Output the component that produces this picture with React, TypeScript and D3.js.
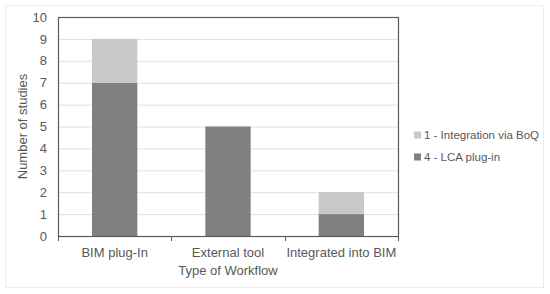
import React, { useEffect, useRef } from 'react';
import * as d3 from 'd3';

const categories = ['BIM plug-In', 'External tool', 'Integrated into BIM'];
const lcaPlugin = [7, 5, 1];
const boqIntegration = [2, 0, 1];
const seriesNames = ['1 - Integration via BoQ', '4 - LCA plug-in'];
const yTicks = [0, 1, 2, 3, 4, 5, 6, 7, 8, 9, 10];

const App = () => {
    const svgRef = useRef<SVGSVGElement | null>(null);

    useEffect(() => {
        const svg = d3.select(svgRef.current);
        svg.selectAll('*').remove();
        const left = 58, right = 398, top = 17, bottom = 236;
        const font = 'Liberation Sans, Arial, sans-serif';
        const textColor = '#595959';

        svg.append('rect')
            .attr('x', 5.5).attr('y', 5.5)
            .attr('width', 538).attr('height', 282)
            .attr('fill', 'white')
            .attr('stroke', '#ececec');

        const x = d3.scaleBand().domain(categories).range([left, right]).paddingInner(0.6).paddingOuter(0.3);
        const y = d3.scaleLinear().domain([0, 10]).range([bottom, top]);

        // gridlines
        svg.append('g').selectAll('line').data(yTicks.slice(1, -1)).enter().append('line')
            .attr('x1', left).attr('x2', right)
            .attr('y1', (d) => y(d) + 0.5).attr('y2', (d) => y(d) + 0.5)
            .attr('stroke', '#e0e0e0');

        const stack = categories.map((c, i) => ({ cat: c, lca: lcaPlugin[i], boq: boqIntegration[i] }));

        const bars = svg.append('g');
        bars.selectAll('.lca').data(stack).enter().append('rect')
            .attr('x', (d) => x(d.cat))
            .attr('width', x.bandwidth())
            .attr('y', (d) => y(d.lca))
            .attr('height', (d) => y(0) - y(d.lca))
            .attr('fill', '#808080');
        bars.selectAll('.boq').data(stack.filter((d) => d.boq > 0)).enter().append('rect')
            .attr('x', (d) => x(d.cat))
            .attr('width', x.bandwidth())
            .attr('y', (d) => y(d.lca + d.boq))
            .attr('height', (d) => y(d.lca) - y(d.lca + d.boq))
            .attr('fill', '#c8c8c8');

        // frame
        svg.append('rect')
            .attr('x', left + 0.5).attr('y', top + 0.5)
            .attr('width', right - left).attr('height', bottom - top)
            .attr('fill', 'none')
            .attr('stroke', '#595959')
            .attr('stroke-width', 1.2);

        // x ticks at band boundaries
        const step = (right - left) / categories.length;
        const xTickPos = d3.range(categories.length + 1).map((i) => left + i * step);
        svg.append('g').selectAll('line').data(xTickPos).enter().append('line')
            .attr('x1', (d) => Math.round(d) + 0.5).attr('x2', (d) => Math.round(d) + 0.5)
            .attr('y1', bottom).attr('y2', bottom + 5)
            .attr('stroke', '#595959');

        // y tick labels
        svg.append('g').selectAll('text').data(yTicks).enter().append('text')
            .attr('x', 47)
            .attr('y', (d) => y(d))
            .attr('dy', '0.36em')
            .attr('text-anchor', 'end')
            .attr('font-family', font)
            .attr('font-size', 13)
            .attr('fill', textColor)
            .text((d) => d);

        // x labels
        svg.append('g').selectAll('text').data(categories).enter().append('text')
            .attr('x', (d) => (x(d) as number) + x.bandwidth() / 2)
            .attr('y', 257)
            .attr('text-anchor', 'middle')
            .attr('font-family', font)
            .attr('font-size', 13)
            .attr('fill', textColor)
            .text((d) => d);

        svg.append('text')
            .attr('x', x('External tool')! + x.bandwidth() / 2)
            .attr('y', 275)
            .attr('text-anchor', 'middle')
            .attr('font-family', font)
            .attr('font-size', 13)
            .attr('fill', textColor)
            .text('Type of Workflow');

        svg.append('text')
            .attr('transform', `translate(27, ${(top + bottom) / 2}) rotate(-90)`)
            .attr('text-anchor', 'middle')
            .attr('font-family', font)
            .attr('font-size', 13)
            .attr('fill', textColor)
            .text('Number of studies');

        // legend
        const legendColors = ['#c8c8c8', '#808080'];
        const lg = svg.append('g').selectAll('g').data(seriesNames).enter().append('g')
            .attr('transform', (d, i) => `translate(414, ${135 + i * 22})`);
        lg.append('rect')
            .attr('x', 0).attr('y', -3.5)
            .attr('width', 7).attr('height', 7)
            .attr('fill', (d, i) => legendColors[i]);
        lg.append('text')
            .attr('x', 10)
            .attr('dy', '0.36em')
            .attr('font-family', font)
            .attr('font-size', 11.5)
            .attr('fill', textColor)
            .text((d) => d);
    }, []);

    return <svg ref={svgRef} width={550} height={294} style={{ position: 'absolute', left: 0, top: 0 }}></svg>;
};

export default App;
